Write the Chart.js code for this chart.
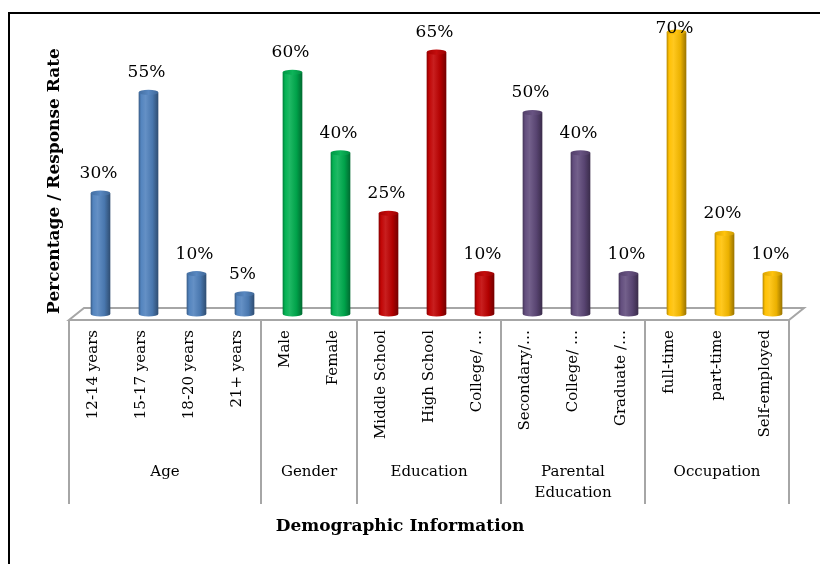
<!DOCTYPE html>
<html>
<head>
<meta charset="utf-8">
<script src="https://cdn.jsdelivr.net/npm/chart.js@4.4.1/dist/chart.umd.min.js"></script>
<style>
  html, body { margin: 0; padding: 0; background: #fff; }
</style>
</head>
<body>
<canvas id="demoChart" width="820" height="564"></canvas>
<script>
// Demographic breakdown, one bar per category
const categories = ['12-14 years', '15-17 years', '18-20 years', '21+ years',
    'Male', 'Female',
    'Middle School', 'High School', 'College/ \u2026',
    'Secondary/\u2026', 'College/ \u2026', 'Graduate /\u2026',
    'full-time', 'part-time', 'Self-employed'];
const responseRates = [30, 55, 10, 5, 60, 40, 25, 65, 10, 50, 40, 10, 70, 20, 10];

// Groups drawn under the category labels
const groupNames = [['Age'], ['Gender'], ['Education'], ['Parental', 'Education'], ['Occupation']];
const groupSizes = [4, 2, 3, 3, 3];
const groupColors = ['#4F81BD', '#00B050', '#C00000', '#604A7B', '#FFC000'];

const barColors = [];
groupSizes.forEach((n, i) => {
    for (let k = 0; k < n; k++) barColors.push(groupColors[i]);
});

const SERIF = '"DejaVu Serif", "Liberation Serif", serif';
const DEPTH_X = 15;
const DEPTH_Y = 12;
const GRID = '#A6A6A6';

// lighten (amt > 0) or darken (amt < 0) a hex colour
function shade(hex, amt) {
    const n = parseInt(hex.slice(1), 16);
    const t = amt < 0 ? 0 : 255, p = Math.abs(amt);
    const c = [n >> 16, (n >> 8) & 255, n & 255].map(v => Math.round(v + (t - v) * p));
    return 'rgb(' + c.join(',') + ')';
}

function drawCylinder(ctx, cx, top, base, w, color) {
    const rx = w / 2, ry = 2.6;
    const g = ctx.createLinearGradient(cx - rx, 0, cx + rx, 0);
    g.addColorStop(0, shade(color, -0.3));
    g.addColorStop(0.12, shade(color, 0.02));
    g.addColorStop(0.35, shade(color, 0.12));
    g.addColorStop(0.7, shade(color, -0.08));
    g.addColorStop(1, shade(color, -0.4));
    ctx.fillStyle = g;
    ctx.beginPath();
    ctx.moveTo(cx - rx, top);
    ctx.lineTo(cx - rx, base);
    ctx.ellipse(cx, base, rx, ry, 0, Math.PI, 0, true);
    ctx.lineTo(cx + rx, top);
    ctx.closePath();
    ctx.fill();

    const tg = ctx.createLinearGradient(cx - rx, 0, cx + rx, 0);
    tg.addColorStop(0, shade(color, -0.15));
    tg.addColorStop(0.5, shade(color, 0.05));
    tg.addColorStop(1, shade(color, -0.2));
    ctx.fillStyle = tg;
    ctx.beginPath();
    ctx.ellipse(cx, top, rx, ry, 0, 0, Math.PI * 2);
    ctx.fill();
}

// floor, group dividers and cylinder bars
const cylinderBars = {
    id: 'cylinderBars',
    beforeDatasetsDraw(chart) {
        const ctx = chart.ctx;
        const x = chart.scales.x, y = chart.scales.y;
        const floorY = y.getPixelForValue(0) + DEPTH_Y / 2;
        const half = (x.getPixelForValue(1) - x.getPixelForValue(0)) / 2;

        ctx.save();
        ctx.strokeStyle = GRID;
        ctx.lineWidth = 2;
        ctx.beginPath();
        ctx.moveTo(x.left, floorY);
        ctx.lineTo(x.right, floorY);
        ctx.lineTo(x.right + DEPTH_X, floorY - DEPTH_Y);
        ctx.lineTo(x.left + DEPTH_X, floorY - DEPTH_Y);
        ctx.closePath();
        ctx.stroke();

        // dividers between groups
        let idx = 0;
        const edges = [x.getPixelForValue(0) - half];
        groupSizes.forEach(n => {
            idx += n;
            edges.push(x.getPixelForValue(idx - 1) + half);
        });
        ctx.beginPath();
        edges.forEach(px => {
            ctx.moveTo(px, floorY);
            ctx.lineTo(px, floorY + 184);
        });
        ctx.stroke();

        const meta = chart.getDatasetMeta(0);
        meta.data.forEach((bar, i) => {
            drawCylinder(ctx, bar.x + DEPTH_X / 2, bar.y, bar.base, bar.width, barColors[i]);
        });
        ctx.restore();
        return false;
    },
    afterDraw(chart) {
        const ctx = chart.ctx;
        const x = chart.scales.x, y = chart.scales.y;
        const floorY = y.getPixelForValue(0) + DEPTH_Y / 2;
        ctx.save();

        // outer frame, top and left only
        ctx.strokeStyle = '#000';
        ctx.lineWidth = 2;
        ctx.beginPath();
        ctx.moveTo(9, 564);
        ctx.lineTo(9, 13);
        ctx.lineTo(820, 13);
        ctx.stroke();

        // value labels
        ctx.fillStyle = '#000';
        ctx.font = '17px ' + SERIF;
        ctx.textAlign = 'center';
        ctx.textBaseline = 'middle';
        const meta = chart.getDatasetMeta(0);
        meta.data.forEach((bar, i) => {
            const ly = Math.max(bar.y - 19.5, 29);
            ctx.fillText(responseRates[i] + '%', bar.x + DEPTH_X / 2 - 2, ly);
        });

        // group names
        ctx.font = '15px ' + SERIF;
        let start = 0;
        groupSizes.forEach((n, gi) => {
            const cx = (x.getPixelForValue(start) + x.getPixelForValue(start + n - 1)) / 2;
            groupNames[gi].forEach((line, li) => {
                ctx.fillText(line, cx, floorY + 152 + li * 21);
            });
            start += n;
        });

        // axis titles
        ctx.font = 'bold 17px ' + SERIF;
        ctx.fillText('Demographic Information', 400, 527);
        ctx.translate(55, 181);
        ctx.rotate(-Math.PI / 2);
        ctx.fillText('Percentage / Response Rate', 0, 0);
        ctx.restore();
    }
};

new Chart(document.getElementById('demoChart'), {
    type: 'bar',
    data: {
        labels: categories,
        datasets: [{
            data: responseRates,
            backgroundColor: barColors,
            barPercentage: 0.41,
            categoryPercentage: 1
        }]
    },
    options: {
        responsive: false,
        animation: false,
        layout: { padding: { left: 69, right: 31, top: 32, bottom: 0 } },
        plugins: {
            legend: { display: false },
            tooltip: { enabled: false }
        },
        scales: {
            x: {
                grid: { display: false, drawTicks: false },
                border: { display: false },
                ticks: {
                    autoSkip: false,
                    maxRotation: 90,
                    minRotation: 90,
                    padding: 16,
                    color: '#000',
                    font: { family: SERIF, size: 15 }
                },
                afterFit(scale) { scale.height = 250; }
            },
            y: {
                display: false,
                min: 0,
                max: 70
            }
        }
    },
    plugins: [cylinderBars]
});
</script>
</body>
</html>
